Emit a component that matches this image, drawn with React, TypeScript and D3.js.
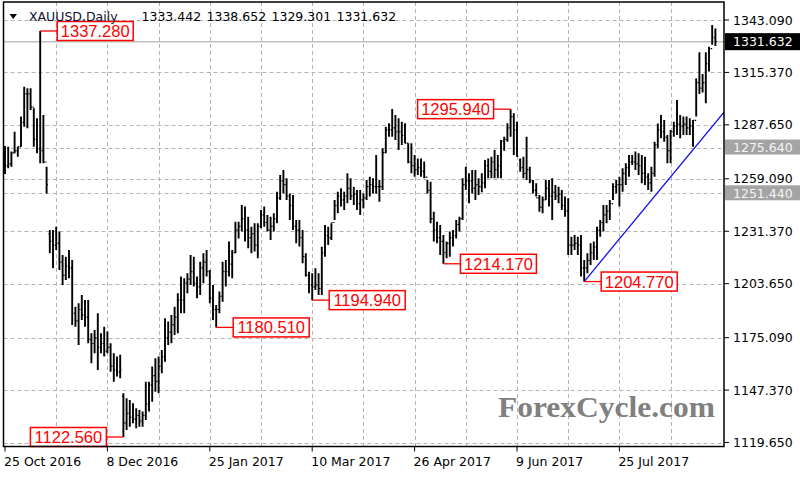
import React from "react";
import * as d3 from "d3";

// ---- Data (XAUUSD daily bars) ----
const highs = [
  1276.5,1276.1,1273.5,1284.0,1276.1,1292.0,1307.8,1307.0,1307.0,1296.4,
  1291.1,1337.28,1292.9,1265.5,1232.0,1232.0,1233.8,1231.2,1218.8,1217.9,
  1221.5,1216.2,1191.5,1193.3,1197.7,1195.0,1195.0,1177.4,1179.2,1188.0,
  1177.4,1180.9,1178.3,1172.1,1166.8,1165.1,1166.0,1145.7,1143.0,1142.1,
  1140.4,1137.7,1136.8,1136.0,1151.8,1151.8,1159.8,1164.2,1165.1,1168.6,
  1185.3,1183.6,1187.1,1191.5,1198.6,1207.4,1206.5,1209.1,1218.8,1217.9,
  1207.4,1215.3,1219.7,1221.5,1210.9,1203.0,1192.4,1199.5,1215.3,1216.2,
  1225.9,1221.5,1236.4,1236.4,1245.3,1244.4,1239.1,1233.8,1235.6,1235.6,
  1242.6,1244.4,1239.9,1239.1,1240.9,1252.3,1261.1,1263.8,1259.4,1251.4,
  1250.5,1237.3,1237.3,1232.0,1219.7,1210.0,1209.1,1211.8,1209.1,1223.2,
  1234.7,1233.8,1235.6,1247.9,1252.3,1254.1,1252.3,1262.0,1259.4,1254.9,
  1253.2,1253.2,1251.4,1258.5,1260.2,1259.4,1271.7,1258.5,1275.2,1286.7,
  1288.5,1296.0,1292.9,1291.1,1289.3,1288.5,1277.9,1277.9,1271.7,1269.9,
  1269.9,1268.2,1258.5,1257.6,1241.7,1236.4,1234.7,1229.4,1225.9,1231.2,
  1232.0,1237.3,1239.1,1259.4,1265.5,1262.0,1263.8,1263.8,1259.4,1262.0,
  1269.0,1269.9,1270.8,1274.3,1271.7,1279.6,1281.4,1288.5,1295.94,1293.8,
  1289.3,1269.9,1270.8,1281.4,1265.5,1258.5,1256.7,1250.5,1249.7,1258.5,
  1258.5,1259.4,1255.8,1254.9,1253.2,1249.7,1248.8,1228.5,1229.4,1228.5,
  1229.4,1216.2,1219.7,1225.0,1225.9,1233.8,1237.3,1245.3,1245.3,1247.9,
  1256.7,1258.5,1260.2,1264.7,1267.3,1271.7,1271.7,1273.5,1272.6,1271.7,
  1270.8,1262.0,1265.5,1278.7,1288.4,1292.9,1290.2,1282.3,1284.9,1289.3,
  1300.8,1292.9,1292.0,1292.0,1291.1,1290.2,1312.2,1326.0,1314.5,1326.0,
  1329.0,1340.4,1338.652,
];

const lows = [
  1261.7,1264.7,1265.5,1272.6,1270.8,1276.1,1286.7,1285.8,1295.5,1276.1,
  1272.6,1267.3,1267.3,1251.4,1219.7,1211.8,1221.5,1210.9,1203.0,1205.6,
  1206.5,1181.8,1180.9,1171.2,1184.4,1180.9,1172.1,1161.5,1166.8,1158.0,
  1166.8,1165.1,1166.8,1157.1,1151.8,1154.5,1153.6,1122.56,1126.3,1128.0,
  1129.8,1127.2,1128.0,1128.0,1131.6,1136.0,1141.2,1146.5,1145.7,1156.3,
  1162.4,1171.2,1172.1,1176.5,1177.4,1188.0,1188.0,1198.6,1203.0,1202.1,
  1195.9,1197.7,1203.9,1207.4,1193.3,1184.4,1180.51,1188.0,1194.1,1202.1,
  1207.4,1206.5,1219.7,1227.6,1231.2,1225.9,1222.4,1219.7,1220.6,1217.1,
  1232.9,1233.8,1231.2,1226.8,1231.2,1235.6,1247.9,1251.4,1247.9,1237.3,
  1232.0,1225.0,1223.3,1214.4,1207.4,1198.6,1194.94,1200.3,1197.7,1197.7,
  1217.9,1224.1,1226.8,1237.3,1240.9,1244.4,1242.6,1246.2,1247.9,1245.3,
  1242.6,1240.0,1243.5,1247.9,1249.7,1251.4,1251.4,1247.0,1253.2,1272.6,
  1281.4,1281.4,1279.6,1274.3,1277.0,1277.9,1267.3,1262.0,1260.2,1261.1,
  1260.2,1259.4,1251.4,1235.6,1225.9,1225.0,1218.8,1214.17,1217.1,1217.9,
  1223.3,1227.6,1231.2,1237.3,1253.2,1246.2,1251.4,1247.9,1250.5,1252.0,
  1254.1,1259.4,1259.4,1259.4,1259.4,1259.4,1274.0,1278.7,1281.4,1271.7,
  1270.8,1262.9,1259.4,1258.5,1256.7,1251.4,1249.7,1241.7,1240.9,1247.9,
  1244.4,1237.3,1247.9,1246.2,1242.6,1239.1,1218.8,1218.8,1221.5,1218.8,
  1207.4,1204.77,1209.1,1213.5,1216.2,1216.2,1228.5,1231.2,1235.6,1237.3,
  1247.9,1251.4,1244.4,1252.3,1255.8,1260.2,1266.4,1263.8,1261.1,1256.7,
  1255.8,1253.2,1252.3,1260.2,1275.2,1280.5,1278.7,1267.3,1267.3,1281.4,
  1282.3,1280.5,1282.3,1282.3,1282.3,1276.1,1292.0,1304.0,1304.8,1299.0,
  1315.8,1330.0,1329.301,
];

const opens = [
  1270,1266,1267,1272.8,1274,1276,1289,1304,1304,1297,
  1280,1275,1274,1268,1230,1226,1224,1225,1215,1208,
  1213,1212,1188,1184,1190,1187,1186,1174,1172,1175,
  1170,1172,1168,1170,1160,1158,1157,1144,1130,1135,
  1133,1132,1134,1131,1134,1140,1150,1155,1152,1160,
  1165,1175,1178,1182,1186,1195,1195,1204,1206,1210,
  1204,1202,1212,1215,1210,1196,1190,1190,1197,1210,
  1210,1214,1220,1232,1234,1238,1232,1228,1230,1224,
  1234,1240,1236,1232,1234,1238,1249,1258,1256,1250,
  1245,1234,1232,1228,1218,1208,1203,1202,1203,1201,
  1220,1229,1228,1236,1245,1250,1248,1250,1254,1250,
  1251,1246,1248,1249,1255,1256,1255,1255,1255,1273,
  1285,1285,1286,1284,1284,1282,1278,1268,1266,1264,
  1265,1263,1260,1253,1238,1232,1228,1226,1220,1225,
  1228,1229,1235,1238,1256,1258,1258,1254,1256,1255,
  1257,1266,1263,1268,1264,1266,1279,1280,1286,1292,
  1285,1269,1265,1262,1264,1258,1253,1249,1244,1248,
  1254,1250,1252,1250,1251,1245,1242,1224,1224,1225,
  1224,1212,1212,1216,1220,1223,1232,1236,1240,1242,
  1246,1255,1256,1256,1262,1265,1268,1268,1267,1266,
  1262,1260,1257,1262,1277,1285,1284,1281,1274,1284,
  1287,1288,1287,1288,1286,1287,1290,1310,1307,1310,
  1320,1328,1333.442,
];

const closes = [
  1266,1267,1272.8,1274,1276,1289,1304,1304,1297,1280,
  1275,1274,1268,1256,1226,1224,1225,1215,1208,1213,
  1212,1188,1184,1190,1187,1186,1174,1172,1175,1170,
  1172,1168,1170,1160,1158,1157,1158,1130,1135,1133,
  1132,1134,1131,1134,1140,1150,1155,1152,1160,1165,
  1175,1178,1182,1186,1195,1195,1204,1206,1210,1204,
  1202,1212,1215,1210,1196,1190,1190,1197,1210,1210,
  1214,1220,1232,1234,1238,1232,1228,1230,1224,1234,
  1240,1236,1232,1234,1238,1249,1258,1256,1250,1245,
  1234,1232,1228,1218,1208,1203,1202,1203,1201,1220,
  1229,1228,1236,1245,1250,1248,1250,1254,1250,1251,
  1246,1248,1249,1255,1256,1255,1255,1255,1273,1285,
  1285,1286,1284,1284,1282,1278,1268,1266,1264,1265,
  1263,1260,1253,1238,1232,1228,1226,1220,1225,1228,
  1229,1235,1238,1256,1258,1258,1254,1256,1255,1257,
  1266,1263,1268,1264,1266,1279,1280,1286,1292,1285,
  1271,1265,1262,1264,1258,1253,1249,1244,1248,1254,
  1250,1252,1250,1251,1245,1242,1224,1224,1225,1224,
  1212,1212,1216,1220,1223,1232,1236,1240,1242,1246,
  1255,1256,1256,1262,1265,1268,1268,1267,1266,1262,
  1260,1257,1262,1277,1285,1284,1281,1274,1284,1287,
  1288,1287,1288,1286,1287,1290,1310,1307,1310,1320,
  1328,1334,1331.632,
];

const symbolTitle = "XAUUSD,Daily";
const priceTicks = [1343.09, 1315.37, 1287.65, 1259.09, 1231.37, 1203.65, 1175.09, 1147.37, 1119.65];
const dateTickIndex = [0, 32, 64, 96, 128, 160, 192];
const dateTickLabels = ["25 Oct 2016", "8 Dec 2016", "25 Jan 2017", "10 Mar 2017", "26 Apr 2017", "9 Jun 2017", "25 Jul 2017"];
const gridIndex = [16, 32, 48, 64, 80, 96, 112, 128, 144, 160, 176, 192, 208];

const annIndex = [11, 37, 66, 96, 137, 158, 181];
const annPrice = [1337.28, 1122.56, 1180.51, 1194.94, 1214.17, 1295.94, 1204.77];
const annSide = ["r", "l", "r", "r", "r", "l", "r"];

const hLinePrices = [1275.64, 1251.44];
const trendIndex = [181, 224.7];
const trendPrice = [1204.77, 1294.4];

// ---- Layout ----
const W = 800, H = 480;
const PL = 3.5, PR = 724, PT = 2, PB = 446.5;

export default function App() {
  const n = highs.length;
  const x = d3.scaleLinear().domain([0, 225]).range([5, 725]);
  const y = d3.scaleLinear().domain([1119.65, 1343.09]).range([442.5, 20]);
  const fmt = d3.format(".3f");
  const last = n - 1;
  const lastClose = closes[last];
  const header = [opens[last], highs[last], lows[last], closes[last]];

  const axisFont = "'DejaVu Sans', Verdana, sans-serif";
  const lblFont = "'Liberation Sans', Arial, sans-serif";
  const gridColor = "#b4b4b4";

  const barPath = d3.range(n).map((i) => {
    const xi = x(i);
    return `M${xi},${y(highs[i])}V${y(lows[i])}`;
  }).join("");
  const tickPath = d3.range(n).map((i) => {
    const xi = x(i);
    return `M${xi - 1.3},${y(opens[i])}H${xi}M${xi},${y(closes[i])}H${xi + 1.3}`;
  }).join("");

  const trendLine = d3.line<number>()
    .x((_, k) => x(trendIndex[k]))
    .y((_, k) => y(trendPrice[k]))(trendIndex);

  return (
    <svg width={W} height={H} style={{ position: "absolute", left: 0, top: 0, background: "#fff" }}>
      <defs>
        <clipPath id="plot">
          <rect x={PL} y={PT} width={PR - PL} height={PB - PT} />
        </clipPath>
      </defs>
      <rect x={0} y={0} width={W} height={H} fill="#fff" />

      {/* grid */}
      <g stroke={gridColor} strokeWidth={1} strokeDasharray="4,3" clipPath="url(#plot)">
        {priceTicks.map((p) => (
          <line key={p} x1={PL} x2={PR} y1={Math.round(y(p)) + 0.5} y2={Math.round(y(p)) + 0.5} />
        ))}
        {hLinePrices.map((p) => (
          <line key={p} x1={PL} x2={PR} y1={Math.round(y(p)) + 0.5} y2={Math.round(y(p)) + 0.5} />
        ))}
        {gridIndex.map((i) => (
          <line key={i} x1={Math.round(x(i)) + 0.5} x2={Math.round(x(i)) + 0.5} y1={PT} y2={PB} />
        ))}
      </g>

      {/* last price line */}
      <line x1={PL} x2={PR} y1={y(lastClose)} y2={y(lastClose)} stroke="#c0c0c0" strokeWidth={1.5} />

      {/* bars */}
      <g clipPath="url(#plot)">
        <path d={barPath} stroke="#000" strokeWidth={1.9} fill="none" />
        <path d={tickPath} stroke="#000" strokeWidth={1.2} fill="none" />
        <path d={trendLine || ""} stroke="#1010f0" strokeWidth={1.3} fill="none" />
      </g>

      {/* annotations */}
      {annIndex.map((i, k) => {
        const bx = x(i);
        const by = y(annPrice[k]);
        const bw = 76, bh = 19, off = 17;
        const left = annSide[k] === "r" ? bx + off : bx - off - bw;
        const lineEnd = annSide[k] === "r" ? left : left + bw;
        return (
          <g key={k}>
            <line x1={bx} x2={lineEnd} y1={by} y2={by} stroke="#ff0000" strokeWidth={1.3} />
            <rect x={left} y={by - bh / 2} width={bw} height={bh} fill="#fff" stroke="#ff0000" strokeWidth={1.5} />
            <text x={left + bw / 2} y={by + 6} textAnchor="middle" fill="#ff0000" fontFamily={lblFont} fontSize={16.5}>
              {fmt(annPrice[k])}
            </text>
          </g>
        );
      })}

      {/* watermark */}
      <text x={498} y={417} fontFamily="'Liberation Serif', 'Times New Roman', serif" fontWeight="bold" fontSize={29}
        fill="#808080" textLength={217} lengthAdjust="spacingAndGlyphs">ForexCycle.com</text>

      {/* frame */}
      <rect x={PL} y={PT} width={PR - PL} height={PB - PT} fill="none" stroke="#000" strokeWidth={1.5} />

      {/* right axis */}
      <g fontFamily={axisFont} fontSize={12.5} fill="#000">
        {priceTicks.map((p) => (
          <g key={p}>
            <line x1={PR} x2={PR + 5} y1={y(p)} y2={y(p)} stroke="#000" strokeWidth={1} />
            <text x={733} y={y(p) + 4.5}>{fmt(p)}</text>
          </g>
        ))}
        {hLinePrices.map((p) => (
          <g key={p}>
            <rect x={725} y={y(p) - 8} width={75} height={15} fill="#a4a4a4" />
            <text x={733} y={y(p) + 4.5} fill="#f4f4f4">{fmt(p)}</text>
          </g>
        ))}
        <rect x={725} y={y(lastClose) - 8.5} width={75} height={17} fill="#000" />
        <text x={733} y={y(lastClose) + 4.5} fill="#fff">{fmt(lastClose)}</text>
      </g>

      {/* bottom axis */}
      <g fontFamily={axisFont} fontSize={12.5} fill="#000">
        {dateTickIndex.map((i, k) => (
          <g key={i}>
            <line x1={x(i)} x2={x(i)} y1={PB} y2={PB + 5} stroke="#000" strokeWidth={1} />
            <text x={x(i) - 1} y={466}>{dateTickLabels[k]}</text>
          </g>
        ))}
      </g>

      {/* header */}
      <path d="M9.5,14 L17,14 L13.25,19 Z" fill="#000" />
      <g fontFamily={axisFont} fontSize={12.5} fill="#000">
        <text x={29} y={21} fill="#101030">{symbolTitle}</text>
        {header.map((v, k) => (
          <text key={k} x={141.5 + k * 65} y={21}>{fmt(v)}</text>
        ))}
      </g>
    </svg>
  );
}
